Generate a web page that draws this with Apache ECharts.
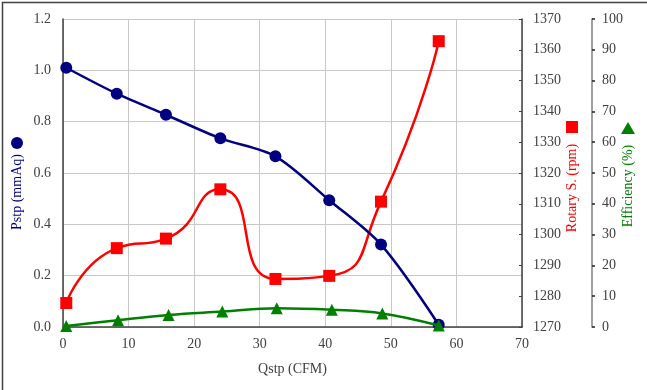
<!DOCTYPE html>
<html><head><meta charset="utf-8">
<script src="https://cdn.jsdelivr.net/npm/echarts@6/dist/echarts.min.js"></script>
<style>html,body{margin:0;padding:0;background:#fff}#c{width:647px;height:390px}</style>
</head><body><div id="c"></div>
<script>
var qPstp = [0.5, 8.2, 15.7, 24.0, 32.4, 40.6, 48.5, 57.3];
var pstp = [1.01, 0.909, 0.827, 0.735, 0.665, 0.494, 0.321, 0.009];
var qRpm = [0.5, 8.2, 15.7, 24.0, 32.4, 40.6, 48.5, 57.3];
var rpm = [1277.8, 1295.6, 1298.7, 1314.7, 1285.6, 1286.6, 1310.7, 1362.8];
var qEff = [0.5, 8.4, 16.1, 24.3, 32.6, 41.0, 48.7, 57.3];
var eff = [0.3, 2.2, 3.9, 5.0, 6.1, 5.6, 4.4, 0.5];

function pairs(xs, ys){ return xs.map(function(x,i){return [x, ys[i]];}); }

var FONT = '"Liberation Serif", "Times New Roman", serif';
var TXT = '#404040';
var chart = echarts.init(document.getElementById('c'));
chart.setOption({
  animation: false,
  textStyle: {fontFamily: FONT},
  grid: {left: 63, right: 125, top: 19, bottom: 63},
  xAxis: {
    type: 'value', min: 0, max: 70, interval: 10,
    name: 'Qstp (CFM)', nameLocation: 'middle', nameGap: 35,
    nameTextStyle: {color: TXT, fontSize: 14, fontFamily: FONT},
    axisLine: {show: true, lineStyle: {color: '#404040', width: 1.5}},
    axisTick: {show: false},
    axisLabel: {color: TXT, fontSize: 14, fontFamily: FONT, margin: 10},
    splitLine: {show: true, lineStyle: {color: '#c8c8c8', width: 1}}
  },
  yAxis: [
    {
      type: 'value', min: 0, max: 1.2, interval: 0.2, position: 'left',
      axisLine: {show: true, lineStyle: {color: '#404040', width: 1.5}},
      axisTick: {show: false},
      axisLabel: {color: TXT, fontSize: 14, fontFamily: FONT, margin: 12,
        formatter: function(v){ return v.toFixed(1); }},
      splitLine: {show: true, lineStyle: {color: '#c8c8c8', width: 1}}
    },
    {
      type: 'value', min: 1270, max: 1370, interval: 10, position: 'right', offset: 0,
      axisLine: {show: true, lineStyle: {color: '#404040', width: 1.5}},
      axisTick: {show: true, inside: true, length: 3, lineStyle: {color: '#404040'}},
      axisLabel: {color: TXT, fontSize: 14, fontFamily: FONT, margin: 11,
        formatter: function(v){ return String(v); }},
      splitLine: {show: false}
    },
    {
      type: 'value', min: 0, max: 100, interval: 10, position: 'right', offset: 70,
      axisLine: {show: true, lineStyle: {color: '#808080', width: 1.5}},
      axisTick: {show: true, length: 3, lineStyle: {color: '#202020', width: 1.5}},
      axisLabel: {color: TXT, fontSize: 14, fontFamily: FONT, margin: 10},
      splitLine: {show: false}
    }
  ],
  series: [
    {
      type: 'line', yAxisIndex: 0, data: pairs(qPstp, pstp), smooth: 0.3,
      symbol: 'circle', symbolSize: 12,
      lineStyle: {color: '#000080', width: 2.5},
      itemStyle: {color: '#000080'}, z: 3
    },
    {
      type: 'line', yAxisIndex: 1, data: pairs(qRpm, rpm), smooth: 0.6,
      symbol: 'rect', symbolSize: 12,
      lineStyle: {color: '#ff0000', width: 2.5},
      itemStyle: {color: '#ff0000'}, z: 2
    },
    {
      type: 'line', yAxisIndex: 2, data: pairs(qEff, eff), smooth: 0.4,
      symbol: 'triangle', symbolSize: 12,
      lineStyle: {color: '#008000', width: 2.5},
      itemStyle: {color: '#008000'}, z: 4
    }
  ],
  graphic: [
    {type: 'rect', left: 0, top: 0, shape: {width: 646, height: 389},
     style: {fill: 'none', stroke: '#404040', lineWidth: 1.5}, silent: true},
    {type: 'text', x: 17, y: 192, rotation: Math.PI/2,
     style: {text: 'Pstp (mmAq)', fill: '#000080', font: '14px ' + FONT,
       textAlign: 'center', textVerticalAlign: 'middle'}},
    {type: 'circle', shape: {cx: 17, cy: 143, r: 6}, style: {fill: '#000080'}},
    {type: 'text', x: 572, y: 188, rotation: Math.PI/2,
     style: {text: 'Rotary S. (rpm)', fill: '#ff0000', font: '14px ' + FONT,
       textAlign: 'center', textVerticalAlign: 'middle'}},
    {type: 'rect', shape: {x: 566, y: 121, width: 12, height: 12}, style: {fill: '#ff0000'}},
    {type: 'text', x: 628, y: 186, rotation: Math.PI/2,
     style: {text: 'Efficiency (%)', fill: '#008000', font: '14px ' + FONT,
       textAlign: 'center', textVerticalAlign: 'middle'}},
    {type: 'polygon', shape: {points: [[628, 122], [621, 134], [635, 134]]}, style: {fill: '#008000'}}
  ]
});
</script></body></html>
